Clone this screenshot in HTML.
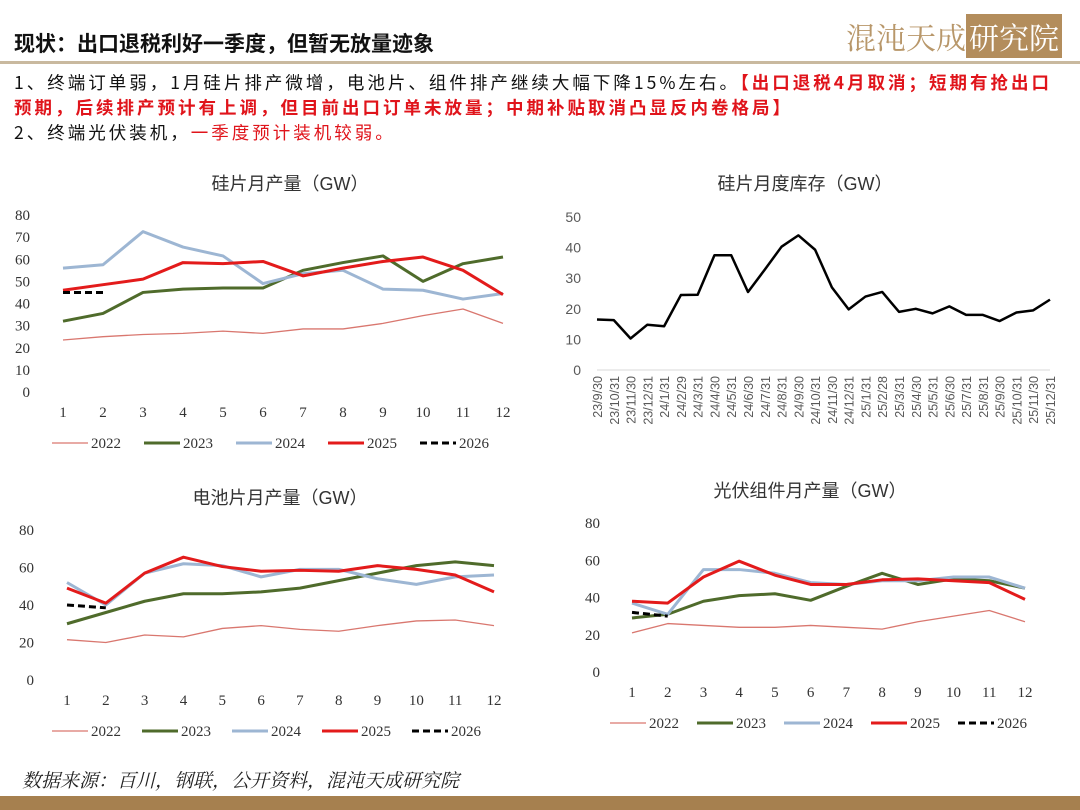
<!DOCTYPE html>
<html><head><meta charset="utf-8">
<style>
body{margin:0;background:#fff;}
#wrap{position:relative;width:1080px;height:810px;overflow:hidden;font-family:"Liberation Sans","Noto Sans CJK SC",sans-serif;}
.t{position:absolute;white-space:nowrap;}
</style></head>
<body>
<div id="wrap">
<div class="t" style="left:14px;top:28px;font-size:21px;font-weight:bold;color:#111;font-family:'Noto Sans CJK SC',sans-serif;">现状：出口退税利好一季度，但暂无放量迹象</div>
<div class="t" style="left:846px;top:14px;font-size:30px;color:#b8976a;font-family:'Noto Serif CJK SC',serif;">混沌天成<span style="background:#b38d5c;color:#fff;padding:0 3px;">研究院</span></div>
<div style="position:absolute;left:0;top:61px;width:1080px;height:3px;background:#c9b99f;"></div>
<div class="t" style="left:14px;top:70px;font-size:17.5px;line-height:25px;color:#111;font-family:'Noto Sans CJK SC',sans-serif;letter-spacing:3px;">1、终端订单弱，1月硅片排产微增，电池片、组件排产继续大幅下降15%左右。<b style="color:#e0141b">【出口退税4月取消；短期有抢出口</b><br><b style="color:#e0141b">预期，后续排产预计有上调，但目前出口订单未放量；中期补贴取消凸显反内卷格局】</b><br>2、终端光伏装机，<span style="color:#e0141b">一季度预计装机较弱。</span></div>
<svg id="svg" width="1080" height="810" style="position:absolute;left:0;top:0"></svg>
<div class="t" style="left:22px;top:766px;font-size:19px;font-style:italic;color:#222;font-family:'Noto Serif CJK SC',serif;">数据来源：百川，钢联，公开资料，混沌天成研究院</div>
<div style="position:absolute;left:0;top:796px;width:1080px;height:14px;background:#a6804f;"></div>
</div>
<script>
const months=[1,2,3,4,5,6,7,8,9,10,11,12];
const years=["2022","2023","2024","2025","2026"];
const wafer2022=[23.5,25,26,26.5,27.5,26.5,28.5,28.5,31,34.5,37.5,31];
const wafer2023=[32,35.5,45,46.5,47,47,55,58.5,61.5,50,58,61];
const wafer2024=[56,57.5,72.5,65.5,61.5,49,53.5,55,46.5,46,42,44.5];
const wafer2025=[46,48.5,51,58.5,58,59,52.5,56,59,61,55,44];
const wafer2026=[45,45];
const cell2022=[21.5,20,24,23,27.5,29,27,26,29,31.5,32,29];
const cell2023=[30,36,42,46,46,47,49,53,57,61,63,61];
const cell2024=[52,40,57,62,61,55,59,59,54,51,55,56];
const cell2025=[49,41,57,65.5,60.5,58,58.5,58,61,59,56,47];
const cell2026=[40,38.5];
const module2022=[21,26,25,24,24,25,24,23,27,30,33,27];
const module2023=[29,31,38,41,42,38.5,46,53,47,50,49,45];
const module2024=[37,31,55,55,53,48,47,49,49,51,51,45];
const module2025=[38,37,51,59.5,52,47,47,49.5,50,49,48,39];
const module2026=[32,30];
const invDates=["23/9/30","23/10/31","23/11/30","23/12/31","24/1/31","24/2/29","24/3/31","24/4/30","24/5/31","24/6/30","24/7/31","24/8/31","24/9/30","24/10/31","24/11/30","24/12/31","25/1/31","25/2/28","25/3/31","25/4/30","25/5/31","25/6/30","25/7/31","25/8/31","25/9/30","25/10/31","25/11/30","25/12/31"];
const invValues=[16.5,16.3,10.3,14.8,14.3,24.5,24.6,37.5,37.5,25.5,32.8,40.3,44,39.3,27,19.8,24,25.5,19,20,18.5,20.8,18,18,16,18.8,19.5,23];

const NS="http://www.w3.org/2000/svg";
const svg=document.getElementById('svg');
function mk(tag,attrs,parent){const e=document.createElementNS(NS,tag);for(const k in attrs)e.setAttribute(k,attrs[k]);(parent||svg).appendChild(e);return e;}
const styles=[{c:"#d9776f",w:1.3,d:""},{c:"#4f6b2b",w:3,d:""},{c:"#9db6d3",w:3,d:""},{c:"#e31b1b",w:3,d:""},{c:"#000",w:3,d:"7,4"}];

function lineChart(name,title,titleX,titleY,series,cfg){
  const g=mk('g',{});
  
  
  const sx=i=>cfg.x1+(cfg.x12-cfg.x1)*i/11;
  const sy=v=>cfg.y0-(cfg.y0-cfg.ytop)*v/cfg.ymax;
  const t=mk('text',{x:titleX,y:titleY,'text-anchor':'middle','font-size':18,fill:'#333','font-family':'"Liberation Sans","Noto Sans CJK SC",sans-serif'},g);
  t.textContent=title;
  
  
  for(let v=0;v<=cfg.ymax;v+=cfg.step){
    const tl=mk('text',{x:cfg.tickX,y:sy(v)+5,'text-anchor':'end','font-size':15,fill:'#333','font-family':'"Liberation Serif",serif'},g);
    tl.textContent=v;
    
    
  }
  months.forEach((m,i)=>{
    const xl=mk('text',{x:sx(i),y:cfg.xlY,'text-anchor':'middle','font-size':15,fill:'#333','font-family':'"Liberation Serif",serif'},g);
    xl.textContent=m;
    
    
  });
  series.forEach((s,k)=>{
    const st=styles[k];
    const p=mk('polyline',{points:s.map((v,i)=>sx(i)+','+sy(v)).join(' '),fill:'none',stroke:st.c,'stroke-width':st.w,'stroke-dasharray':st.d,'stroke-linejoin':'round'},g);
    
    
    const lx=cfg.legX+k*cfg.legDx;
    const ll=mk('line',{x1:lx,x2:lx+36,y1:cfg.legY,y2:cfg.legY,stroke:st.c,'stroke-width':st.w,'stroke-dasharray':st.d},g);
    
    
    const lt=mk('text',{x:lx+39,y:cfg.legY+5,'font-size':15,fill:'#333','font-family':'"Liberation Serif",serif'},g);
    lt.textContent=years[k];
    
    
  });
}
lineChart('wafer-output-chart','硅片月产量（GW）',290,190,[wafer2022,wafer2023,wafer2024,wafer2025,wafer2026],
 {x1:63,x12:503,y0:392,ytop:215,ymax:80,step:10,tickX:30,xlY:417,legX:52,legDx:92,legY:443});
lineChart('cell-output-chart','电池片月产量（GW）',280,504,[cell2022,cell2023,cell2024,cell2025,cell2026],
 {x1:67,x12:494,y0:680,ytop:530,ymax:80,step:20,tickX:34,xlY:705,legX:52,legDx:90,legY:731});
lineChart('module-output-chart','光伏组件月产量（GW）',810,497,[module2022,module2023,module2024,module2025,module2026],
 {x1:632,x12:1025,y0:672,ytop:523,ymax:80,step:20,tickX:600,xlY:697,legX:610,legDx:87,legY:723});

(function(){
  const g=mk('g',{});
  
  
  const x0=597,x1=1050,y0=370,ytop=217,ymax=50;
  const sx=i=>x0+(x1-x0)*i/(invDates.length-1);
  const sy=v=>y0-(y0-ytop)*v/ymax;
  const t=mk('text',{x:805,y:190,'text-anchor':'middle','font-size':18,fill:'#333','font-family':'"Liberation Sans","Noto Sans CJK SC",sans-serif'},g);
  t.textContent='硅片月度库存（GW）';
  
  
  const ax=mk('line',{x1:x0,x2:x1,y1:y0,y2:y0,stroke:'#d9d9d9','stroke-width':1},g);
  
  
  for(let v=0;v<=ymax;v+=10){
    const tl=mk('text',{x:581,y:sy(v)+5,'text-anchor':'end','font-size':14,fill:'#595959','font-family':'"Liberation Sans",sans-serif'},g);
    tl.textContent=v;
    
    
  }
  invDates.forEach((d,i)=>{
    const tl=mk('text',{x:0,y:0,'text-anchor':'end','font-size':12.5,fill:'#595959','font-family':'"Liberation Sans",sans-serif',transform:`translate(${sx(i)+5},${y0+6}) rotate(-90)`},g);
    tl.textContent=d;
    
    
  });
  const p=mk('polyline',{points:invValues.map((v,i)=>sx(i)+','+sy(v)).join(' '),fill:'none',stroke:'#000','stroke-width':2.5,'stroke-linejoin':'round'},g);
  
  
})();
</script>
</body></html>
